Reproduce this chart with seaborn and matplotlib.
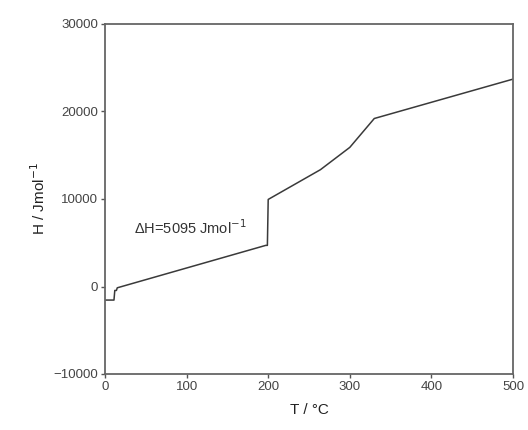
import matplotlib
matplotlib.use("Agg")
import matplotlib.pyplot as plt
import seaborn as sns
import pandas as pd

T = [0, 11, 12, 14, 15, 197, 199, 200, 264, 300, 330, 500]
H = [-1550, -1550, -450, -450, -150, 4700, 4700, 9950, 13350, 15900, 19200, 23700]

xticks = [0, 100, 200, 300, 400, 500]
yticks = [-10000, 0, 10000, 20000, 30000]

sns.set_theme(style="ticks")
plt.rcParams['font.family'] = ['Liberation Sans', 'DejaVu Sans']

df = pd.DataFrame({"T": T, "H": H})
fig = plt.figure(figsize=(5.28, 4.30), dpi=100)
ax = fig.add_axes([105/528, 1-374/430, (513-105)/528, (374-24)/430])
sns.lineplot(data=df, x="T", y="H", ax=ax, color="#3a3a3a", linewidth=1.1, sort=False)

ax.set_xlim(0, 500)
ax.set_ylim(-10000, 30000)
ax.set_xticks(xticks)
ax.set_yticks(yticks)
ax.tick_params(axis='both', labelsize=9.5, colors="#555555", length=3, width=1, pad=2,
               labelcolor="#444444")
for s in ax.spines.values():
    s.set_color("#666666")
    s.set_linewidth(1.3)
ax.set_xlabel("T / \u00b0C", fontsize=11, color="#222222", labelpad=7)
ax.set_ylabel("H / Jmol$^{-1}$", fontsize=11, color="#222222", labelpad=4)
ax.text(104, 6700, "\u0394H=5095 Jmol$^{-1}$", fontsize=10.5, color="#333333",
        ha="center", va="center")

fig.savefig("out.png", dpi=100)
